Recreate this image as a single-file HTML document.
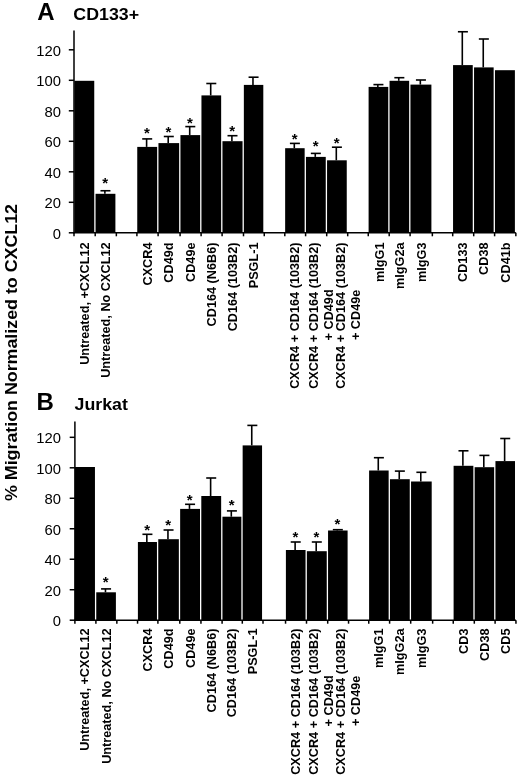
<!DOCTYPE html>
<html><head><meta charset="utf-8"><title>Migration chart</title><style>
*{margin:0;padding:0}
html,body{width:520px;height:777px;background:#fff;overflow:hidden}
svg{display:block}
text{font-family:"Liberation Sans",Arial,sans-serif;fill:#000}
.eb{stroke:#000;stroke-width:1.6}
.ax{stroke:#000;stroke-width:1.5}
.yl{font-size:14.8px;text-anchor:end}
.xl{font-size:12.7px;font-weight:bold}
.ast{font-size:15px;font-weight:bold;text-anchor:middle}
.let{font-size:24px;font-weight:bold}
.tit{font-size:17px;font-weight:bold}
.yt{font-size:16.9px;font-weight:bold}
</style></head>
<body><svg width="520" height="777" viewBox="0 0 520 777">
<rect x="74.35" y="80.80" width="19.90" height="152.00" fill="#000"/>
<rect x="95.55" y="193.80" width="19.85" height="39.00" fill="#000"/>
<line x1="104.88" y1="193.80" x2="104.88" y2="190.75" class="eb"/>
<line x1="100.47" y1="190.75" x2="110.47" y2="190.75" class="eb"/>
<text x="105.17" y="188.25" class="ast">*</text>
<rect x="137.25" y="146.90" width="19.90" height="85.90" fill="#000"/>
<line x1="146.60" y1="146.90" x2="146.60" y2="138.90" class="eb"/>
<line x1="142.20" y1="138.90" x2="152.20" y2="138.90" class="eb"/>
<text x="146.90" y="137.60" class="ast">*</text>
<rect x="158.45" y="143.10" width="20.70" height="89.70" fill="#000"/>
<line x1="168.20" y1="143.10" x2="168.20" y2="136.50" class="eb"/>
<line x1="163.80" y1="136.50" x2="173.80" y2="136.50" class="eb"/>
<text x="168.50" y="136.70" class="ast">*</text>
<rect x="180.45" y="135.10" width="19.70" height="97.70" fill="#000"/>
<line x1="189.70" y1="135.10" x2="189.70" y2="126.60" class="eb"/>
<line x1="185.30" y1="126.60" x2="195.30" y2="126.60" class="eb"/>
<text x="190.00" y="127.80" class="ast">*</text>
<rect x="201.45" y="95.40" width="19.70" height="137.40" fill="#000"/>
<line x1="210.70" y1="95.40" x2="210.70" y2="83.50" class="eb"/>
<line x1="206.30" y1="83.50" x2="216.30" y2="83.50" class="eb"/>
<rect x="222.45" y="141.20" width="20.10" height="91.60" fill="#000"/>
<line x1="231.90" y1="141.20" x2="231.90" y2="135.70" class="eb"/>
<line x1="227.50" y1="135.70" x2="237.50" y2="135.70" class="eb"/>
<text x="232.20" y="136.20" class="ast">*</text>
<rect x="243.85" y="84.90" width="19.45" height="147.90" fill="#000"/>
<line x1="252.97" y1="84.90" x2="252.97" y2="77.20" class="eb"/>
<line x1="248.57" y1="77.20" x2="258.57" y2="77.20" class="eb"/>
<rect x="285.15" y="148.20" width="19.50" height="84.60" fill="#000"/>
<line x1="294.30" y1="148.20" x2="294.30" y2="143.40" class="eb"/>
<line x1="289.90" y1="143.40" x2="299.90" y2="143.40" class="eb"/>
<text x="294.60" y="143.50" class="ast">*</text>
<rect x="305.95" y="156.90" width="19.80" height="75.90" fill="#000"/>
<line x1="315.25" y1="156.90" x2="315.25" y2="153.40" class="eb"/>
<line x1="310.85" y1="153.40" x2="320.85" y2="153.40" class="eb"/>
<text x="315.55" y="151.20" class="ast">*</text>
<rect x="327.05" y="160.30" width="19.70" height="72.50" fill="#000"/>
<line x1="336.30" y1="160.30" x2="336.30" y2="147.20" class="eb"/>
<line x1="331.90" y1="147.20" x2="341.90" y2="147.20" class="eb"/>
<text x="336.60" y="147.80" class="ast">*</text>
<rect x="368.60" y="86.90" width="19.65" height="145.90" fill="#000"/>
<line x1="377.82" y1="86.90" x2="377.82" y2="84.60" class="eb"/>
<line x1="373.43" y1="84.60" x2="383.43" y2="84.60" class="eb"/>
<rect x="389.55" y="80.80" width="19.60" height="152.00" fill="#000"/>
<line x1="398.75" y1="80.80" x2="398.75" y2="77.70" class="eb"/>
<line x1="394.35" y1="77.70" x2="404.35" y2="77.70" class="eb"/>
<rect x="410.45" y="84.60" width="20.95" height="148.20" fill="#000"/>
<line x1="420.33" y1="84.60" x2="420.33" y2="80.00" class="eb"/>
<line x1="415.93" y1="80.00" x2="425.93" y2="80.00" class="eb"/>
<rect x="453.05" y="65.10" width="19.70" height="167.70" fill="#000"/>
<line x1="462.30" y1="65.10" x2="462.30" y2="31.75" class="eb"/>
<line x1="457.90" y1="31.75" x2="467.90" y2="31.75" class="eb"/>
<rect x="474.05" y="67.40" width="19.60" height="165.40" fill="#000"/>
<line x1="483.25" y1="67.40" x2="483.25" y2="39.00" class="eb"/>
<line x1="478.85" y1="39.00" x2="488.85" y2="39.00" class="eb"/>
<rect x="494.95" y="70.20" width="19.95" height="162.60" fill="#000"/>
<line x1="74.00" y1="30.40" x2="74.00" y2="233.50" class="ax"/>
<line x1="73.30" y1="232.80" x2="515.85" y2="232.80" class="ax"/>
<line x1="68.80" y1="232.80" x2="74.00" y2="232.80" class="ax"/>
<text x="61" y="238.60" class="yl">0</text>
<line x1="68.80" y1="202.30" x2="74.00" y2="202.30" class="ax"/>
<text x="61" y="208.10" class="yl">20</text>
<line x1="68.80" y1="171.80" x2="74.00" y2="171.80" class="ax"/>
<text x="61" y="177.60" class="yl">40</text>
<line x1="68.80" y1="141.30" x2="74.00" y2="141.30" class="ax"/>
<text x="61" y="147.10" class="yl">60</text>
<line x1="68.80" y1="110.80" x2="74.00" y2="110.80" class="ax"/>
<text x="61" y="116.60" class="yl">80</text>
<line x1="68.80" y1="80.30" x2="74.00" y2="80.30" class="ax"/>
<text x="61" y="86.10" class="yl">100</text>
<line x1="68.80" y1="49.80" x2="74.00" y2="49.80" class="ax"/>
<text x="61" y="55.60" class="yl">120</text>
<line x1="74.00" y1="232.80" x2="74.00" y2="236.30" class="ax"/>
<line x1="95.20" y1="232.80" x2="95.20" y2="236.30" class="ax"/>
<line x1="116.35" y1="232.80" x2="116.35" y2="236.30" class="ax"/>
<line x1="136.90" y1="232.80" x2="136.90" y2="236.30" class="ax"/>
<line x1="158.10" y1="232.80" x2="158.10" y2="236.30" class="ax"/>
<line x1="180.10" y1="232.80" x2="180.10" y2="236.30" class="ax"/>
<line x1="201.10" y1="232.80" x2="201.10" y2="236.30" class="ax"/>
<line x1="222.10" y1="232.80" x2="222.10" y2="236.30" class="ax"/>
<line x1="243.50" y1="232.80" x2="243.50" y2="236.30" class="ax"/>
<line x1="264.25" y1="232.80" x2="264.25" y2="236.30" class="ax"/>
<line x1="284.80" y1="232.80" x2="284.80" y2="236.30" class="ax"/>
<line x1="305.60" y1="232.80" x2="305.60" y2="236.30" class="ax"/>
<line x1="326.70" y1="232.80" x2="326.70" y2="236.30" class="ax"/>
<line x1="347.70" y1="232.80" x2="347.70" y2="236.30" class="ax"/>
<line x1="368.25" y1="232.80" x2="368.25" y2="236.30" class="ax"/>
<line x1="389.20" y1="232.80" x2="389.20" y2="236.30" class="ax"/>
<line x1="410.10" y1="232.80" x2="410.10" y2="236.30" class="ax"/>
<line x1="432.35" y1="232.80" x2="432.35" y2="236.30" class="ax"/>
<line x1="452.70" y1="232.80" x2="452.70" y2="236.30" class="ax"/>
<line x1="473.70" y1="232.80" x2="473.70" y2="236.30" class="ax"/>
<line x1="494.60" y1="232.80" x2="494.60" y2="236.30" class="ax"/>
<line x1="515.85" y1="232.80" x2="515.85" y2="236.30" class="ax"/>
<text transform="translate(88.80,242.50) rotate(-90)" class="xl" text-anchor="end">Untreated, +CXCL12</text>
<text transform="translate(109.98,242.50) rotate(-90)" class="xl" text-anchor="end">Untreated, No CXCL12</text>
<text transform="translate(151.70,242.50) rotate(-90)" class="xl" text-anchor="end">CXCR4</text>
<text transform="translate(173.30,242.50) rotate(-90)" class="xl" text-anchor="end">CD49d</text>
<text transform="translate(194.80,242.50) rotate(-90)" class="xl" text-anchor="end">CD49e</text>
<text transform="translate(215.80,242.50) rotate(-90)" class="xl" text-anchor="end">CD164 (N6B6)</text>
<text transform="translate(237.00,242.50) rotate(-90)" class="xl" text-anchor="end">CD164 (103B2)</text>
<text transform="translate(258.07,242.50) rotate(-90)" class="xl" text-anchor="end">PSGL-1</text>
<text transform="translate(299.40,242.50) rotate(-90)" class="xl" text-anchor="end">CXCR4 + CD164 (103B2)</text>
<text transform="translate(318.00,242.50) rotate(-90)" class="xl" text-anchor="end">CXCR4 + CD164 (103B2)</text>
<text transform="translate(332.90,314.90) rotate(-90)" class="xl" text-anchor="middle">+ CD49d</text>
<text transform="translate(345.20,242.50) rotate(-90)" class="xl" text-anchor="end">CXCR4 + CD164 (103B2)</text>
<text transform="translate(360.00,314.90) rotate(-90)" class="xl" text-anchor="middle">+ CD49e</text>
<text transform="translate(383.73,242.50) rotate(-90)" class="xl" text-anchor="end">mIgG1</text>
<text transform="translate(404.45,242.50) rotate(-90)" class="xl" text-anchor="end">mIgG2a</text>
<text transform="translate(426.23,242.50) rotate(-90)" class="xl" text-anchor="end">mIgG3</text>
<text transform="translate(467.40,242.50) rotate(-90)" class="xl" text-anchor="end">CD133</text>
<text transform="translate(488.35,242.50) rotate(-90)" class="xl" text-anchor="end">CD38</text>
<text transform="translate(510.23,242.50) rotate(-90)" class="xl" text-anchor="end">CD41b</text>
<text x="37.30" y="20.30" class="let">A</text>
<text transform="translate(73.30,20.20) scale(1.047,1)" class="tit">CD133+</text>
<rect x="74.95" y="467.00" width="20.00" height="153.20" fill="#000"/>
<rect x="96.25" y="592.30" width="19.65" height="27.90" fill="#000"/>
<line x1="105.47" y1="592.30" x2="105.47" y2="588.90" class="eb"/>
<line x1="101.07" y1="588.90" x2="111.07" y2="588.90" class="eb"/>
<text x="105.77" y="586.70" class="ast">*</text>
<rect x="137.90" y="542.00" width="19.05" height="78.20" fill="#000"/>
<line x1="146.83" y1="542.00" x2="146.83" y2="534.30" class="eb"/>
<line x1="142.43" y1="534.30" x2="152.43" y2="534.30" class="eb"/>
<text x="147.12" y="534.70" class="ast">*</text>
<rect x="158.25" y="539.20" width="20.60" height="81.00" fill="#000"/>
<line x1="167.95" y1="539.20" x2="167.95" y2="530.00" class="eb"/>
<line x1="163.55" y1="530.00" x2="173.55" y2="530.00" class="eb"/>
<text x="168.25" y="529.60" class="ast">*</text>
<rect x="180.15" y="508.90" width="19.85" height="111.30" fill="#000"/>
<line x1="189.47" y1="508.90" x2="189.47" y2="504.30" class="eb"/>
<line x1="185.07" y1="504.30" x2="195.07" y2="504.30" class="eb"/>
<text x="189.77" y="505.20" class="ast">*</text>
<rect x="201.30" y="496.00" width="19.85" height="124.20" fill="#000"/>
<line x1="210.62" y1="496.00" x2="210.62" y2="478.00" class="eb"/>
<line x1="206.22" y1="478.00" x2="216.22" y2="478.00" class="eb"/>
<rect x="222.45" y="516.70" width="18.90" height="103.50" fill="#000"/>
<line x1="231.30" y1="516.70" x2="231.30" y2="510.90" class="eb"/>
<line x1="226.90" y1="510.90" x2="236.90" y2="510.90" class="eb"/>
<text x="231.60" y="510.40" class="ast">*</text>
<rect x="242.65" y="445.40" width="19.40" height="174.80" fill="#000"/>
<line x1="251.75" y1="445.40" x2="251.75" y2="425.40" class="eb"/>
<line x1="247.35" y1="425.40" x2="257.35" y2="425.40" class="eb"/>
<rect x="285.90" y="550.00" width="19.65" height="70.20" fill="#000"/>
<line x1="295.12" y1="550.00" x2="295.12" y2="542.00" class="eb"/>
<line x1="290.73" y1="542.00" x2="300.73" y2="542.00" class="eb"/>
<text x="295.43" y="541.60" class="ast">*</text>
<rect x="306.85" y="551.20" width="19.90" height="69.00" fill="#000"/>
<line x1="316.20" y1="551.20" x2="316.20" y2="542.00" class="eb"/>
<line x1="311.80" y1="542.00" x2="321.80" y2="542.00" class="eb"/>
<text x="316.50" y="541.60" class="ast">*</text>
<rect x="328.05" y="530.50" width="19.55" height="89.70" fill="#000"/>
<line x1="337.23" y1="530.50" x2="337.23" y2="529.70" class="eb"/>
<line x1="332.83" y1="529.70" x2="342.83" y2="529.70" class="eb"/>
<text x="337.53" y="528.50" class="ast">*</text>
<rect x="369.10" y="470.50" width="19.55" height="149.70" fill="#000"/>
<line x1="378.27" y1="470.50" x2="378.27" y2="457.70" class="eb"/>
<line x1="373.88" y1="457.70" x2="383.88" y2="457.70" class="eb"/>
<rect x="389.95" y="479.20" width="19.80" height="141.00" fill="#000"/>
<line x1="399.25" y1="479.20" x2="399.25" y2="471.10" class="eb"/>
<line x1="394.85" y1="471.10" x2="404.85" y2="471.10" class="eb"/>
<rect x="411.05" y="481.50" width="20.65" height="138.70" fill="#000"/>
<line x1="420.77" y1="481.50" x2="420.77" y2="472.30" class="eb"/>
<line x1="416.38" y1="472.30" x2="426.38" y2="472.30" class="eb"/>
<rect x="453.60" y="465.80" width="19.75" height="154.40" fill="#000"/>
<line x1="462.88" y1="465.80" x2="462.88" y2="450.80" class="eb"/>
<line x1="458.48" y1="450.80" x2="468.48" y2="450.80" class="eb"/>
<rect x="474.65" y="467.20" width="19.50" height="153.00" fill="#000"/>
<line x1="483.80" y1="467.20" x2="483.80" y2="455.40" class="eb"/>
<line x1="479.40" y1="455.40" x2="489.40" y2="455.40" class="eb"/>
<rect x="495.45" y="461.10" width="19.55" height="159.10" fill="#000"/>
<line x1="504.62" y1="461.10" x2="504.62" y2="438.50" class="eb"/>
<line x1="500.23" y1="438.50" x2="510.23" y2="438.50" class="eb"/>
<line x1="74.90" y1="421.50" x2="74.90" y2="620.90" class="ax"/>
<line x1="74.20" y1="620.20" x2="515.95" y2="620.20" class="ax"/>
<line x1="69.70" y1="620.20" x2="74.90" y2="620.20" class="ax"/>
<text x="61" y="626.00" class="yl">0</text>
<line x1="69.70" y1="589.72" x2="74.90" y2="589.72" class="ax"/>
<text x="61" y="595.52" class="yl">20</text>
<line x1="69.70" y1="559.24" x2="74.90" y2="559.24" class="ax"/>
<text x="61" y="565.04" class="yl">40</text>
<line x1="69.70" y1="528.76" x2="74.90" y2="528.76" class="ax"/>
<text x="61" y="534.56" class="yl">60</text>
<line x1="69.70" y1="498.28" x2="74.90" y2="498.28" class="ax"/>
<text x="61" y="504.08" class="yl">80</text>
<line x1="69.70" y1="467.80" x2="74.90" y2="467.80" class="ax"/>
<text x="61" y="473.60" class="yl">100</text>
<line x1="69.70" y1="437.32" x2="74.90" y2="437.32" class="ax"/>
<text x="61" y="443.12" class="yl">120</text>
<line x1="74.90" y1="620.20" x2="74.90" y2="623.70" class="ax"/>
<line x1="95.90" y1="620.20" x2="95.90" y2="623.70" class="ax"/>
<line x1="116.85" y1="620.20" x2="116.85" y2="623.70" class="ax"/>
<line x1="137.55" y1="620.20" x2="137.55" y2="623.70" class="ax"/>
<line x1="157.90" y1="620.20" x2="157.90" y2="623.70" class="ax"/>
<line x1="179.80" y1="620.20" x2="179.80" y2="623.70" class="ax"/>
<line x1="200.95" y1="620.20" x2="200.95" y2="623.70" class="ax"/>
<line x1="222.10" y1="620.20" x2="222.10" y2="623.70" class="ax"/>
<line x1="242.30" y1="620.20" x2="242.30" y2="623.70" class="ax"/>
<line x1="263.00" y1="620.20" x2="263.00" y2="623.70" class="ax"/>
<line x1="285.55" y1="620.20" x2="285.55" y2="623.70" class="ax"/>
<line x1="306.50" y1="620.20" x2="306.50" y2="623.70" class="ax"/>
<line x1="327.70" y1="620.20" x2="327.70" y2="623.70" class="ax"/>
<line x1="348.55" y1="620.20" x2="348.55" y2="623.70" class="ax"/>
<line x1="368.75" y1="620.20" x2="368.75" y2="623.70" class="ax"/>
<line x1="389.60" y1="620.20" x2="389.60" y2="623.70" class="ax"/>
<line x1="410.70" y1="620.20" x2="410.70" y2="623.70" class="ax"/>
<line x1="432.65" y1="620.20" x2="432.65" y2="623.70" class="ax"/>
<line x1="453.25" y1="620.20" x2="453.25" y2="623.70" class="ax"/>
<line x1="474.30" y1="620.20" x2="474.30" y2="623.70" class="ax"/>
<line x1="495.10" y1="620.20" x2="495.10" y2="623.70" class="ax"/>
<line x1="515.95" y1="620.20" x2="515.95" y2="623.70" class="ax"/>
<text transform="translate(89.45,628.50) rotate(-90)" class="xl" text-anchor="end">Untreated, +CXCL12</text>
<text transform="translate(110.58,628.50) rotate(-90)" class="xl" text-anchor="end">Untreated, No CXCL12</text>
<text transform="translate(151.93,628.50) rotate(-90)" class="xl" text-anchor="end">CXCR4</text>
<text transform="translate(173.05,628.50) rotate(-90)" class="xl" text-anchor="end">CD49d</text>
<text transform="translate(194.57,628.50) rotate(-90)" class="xl" text-anchor="end">CD49e</text>
<text transform="translate(215.72,628.50) rotate(-90)" class="xl" text-anchor="end">CD164 (N6B6)</text>
<text transform="translate(236.40,628.50) rotate(-90)" class="xl" text-anchor="end">CD164 (103B2)</text>
<text transform="translate(256.85,628.50) rotate(-90)" class="xl" text-anchor="end">PSGL-1</text>
<text transform="translate(300.22,628.50) rotate(-90)" class="xl" text-anchor="end">CXCR4 + CD164 (103B2)</text>
<text transform="translate(317.60,628.50) rotate(-90)" class="xl" text-anchor="end">CXCR4 + CD164 (103B2)</text>
<text transform="translate(333.30,700.90) rotate(-90)" class="xl" text-anchor="middle">+ CD49d</text>
<text transform="translate(344.50,628.50) rotate(-90)" class="xl" text-anchor="end">CXCR4 + CD164 (103B2)</text>
<text transform="translate(359.90,700.90) rotate(-90)" class="xl" text-anchor="middle">+ CD49e</text>
<text transform="translate(383.38,628.50) rotate(-90)" class="xl" text-anchor="end">mIgG1</text>
<text transform="translate(404.35,628.50) rotate(-90)" class="xl" text-anchor="end">mIgG2a</text>
<text transform="translate(425.87,628.50) rotate(-90)" class="xl" text-anchor="end">mIgG3</text>
<text transform="translate(467.97,628.50) rotate(-90)" class="xl" text-anchor="end">CD3</text>
<text transform="translate(488.90,628.50) rotate(-90)" class="xl" text-anchor="end">CD38</text>
<text transform="translate(509.73,628.50) rotate(-90)" class="xl" text-anchor="end">CD5</text>
<text x="36.40" y="410.00" class="let">B</text>
<text transform="translate(74.50,409.70) scale(1.047,1)" class="tit">Jurkat</text>
<text transform="translate(16.5,352.5) rotate(-90) scale(1.055,1)" class="yt" text-anchor="middle">% Migration Normalized to CXCL12</text>
</svg></body></html>
